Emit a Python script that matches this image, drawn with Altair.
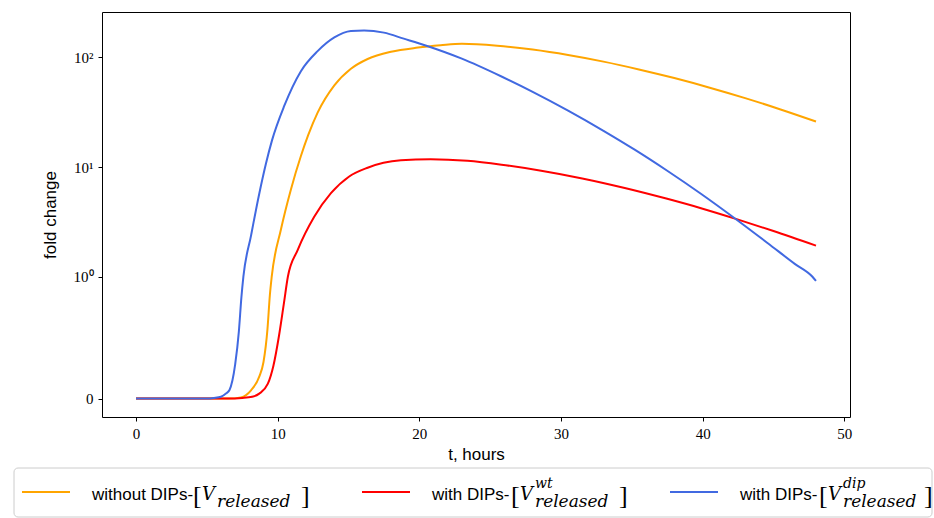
import altair as alt
import pandas as pd
import math

# ---------------- data ----------------
t_without = [0, 6.5, 7.4, 8.12, 8.7, 9.0, 9.28, 9.45, 9.58, 10.23, 10.94, 11.64, 12.16,
             12.82, 14.0, 15.17, 16.35, 18.0, 19.9, 21.5, 23.0, 25.5, 28.0, 30.5, 33.0,
             35.5, 38.0, 40.5, 43.0, 45.5, 48.0]
v_without = [0, 0, 0.01, 0.068, 0.18, 0.3, 0.57, 0.85, 1.0, 2.69, 6.28, 12.6, 19.6,
             31.3, 55.5, 78.7, 96.6, 112.5, 122.7, 128.8, 133, 127.7, 117.6, 105, 91.4,
             77.6, 64.7, 52.9, 42.5, 33.5, 26.0]

t_wt = [0, 6.5, 7.5, 8.2, 8.7, 9.3, 9.7, 10.1, 10.45, 10.72, 11.41, 12.58, 13.76,
        15.05, 16.35, 18.7, 20.8, 23.4, 25.8, 28.6, 31.5, 34.5, 37.5, 40.0, 42.4, 45.0, 48.0]
v_wt = [0, 0, 0.005, 0.015, 0.041, 0.12, 0.27, 0.52, 0.79, 1.0, 1.75, 3.52, 5.77,
        8.2, 9.86, 11.5, 11.8, 11.4, 10.5, 9.25, 7.87, 6.44, 5.13, 4.17, 3.35, 2.61, 1.92]

t_dip = [0, 5.0, 5.5, 6.0, 6.35, 6.6, 7.0, 7.26, 7.44, 7.58, 8.12, 8.7, 9.17, 9.6,
         10.47, 11.64, 12.82, 14.0, 15.17, 16.1, 17.5, 18.9, 20.5, 23.0, 25.8, 28.0,
         30.5, 33.0, 35.2, 37.5, 39.9, 42.4, 44.6, 46.5, 47.75, 48.0]
v_dip = [0, 0.0, 0.005, 0.015, 0.041, 0.07, 0.28, 0.55, 0.83, 1.0, 2.37, 5.71, 10.7, 17.5,
         36.2, 74.8, 114, 152, 174, 176, 168, 148, 127.6, 97.3, 66.9, 48.5,
         32.7, 21.4, 14.4, 9.25, 5.68, 3.31, 2.02, 1.31, 1.0, 0.966]

x_ticks = [0, 10, 20, 30, 40, 50]
y_tick_values = [0, 1, 10, 100]
y_tick_labels = ["0", "10⁰", "10¹", "10²"]

series_colors = ["orange", "red", "royalblue"]

# ---------------- symlog helpers (matplotlib: linthresh=1, linscale=1) ----------------
LINSCALE = 1.0 / (1.0 - 0.1)


def symlog_py(v):
    return v * LINSCALE if v <= 1 else LINSCALE + math.log10(v)


SYMLOG_EXPR = f"datum.v <= 1 ? datum.v * {LINSCALE} : {LINSCALE} + log(datum.v) / LN10"

all_v = v_without + v_wt + v_dip
ymax_t = max(symlog_py(v) for v in all_v)
y_domain = [-0.05 * ymax_t, 1.05 * ymax_t]
x_domain = [-0.05 * 48, 48 * 1.05]
y_tick_t = [symlog_py(v) for v in y_tick_values]

label_expr = " : ".join(
    f"abs(datum.value - {tv}) < 0.01 ? '{lab}'" for tv, lab in zip(y_tick_t, y_tick_labels)
) + " : ''"

# ---------------- layout ----------------
LEFT, TOP = 102, 12
W, H = 748, 405
SERIF = "Liberation Serif"
SANS = "Liberation Sans"
MATH = "DejaVu Serif"

x_scale = alt.Scale(domain=x_domain, nice=False, zero=False)
y_scale = alt.Scale(domain=y_domain, nice=False, zero=False)

x_axis = alt.Axis(values=x_ticks, title="t, hours", grid=False,
                  labelFont=SERIF, labelFontSize=15, titleFont=SANS,
                  titleFontSize=17, titleFontWeight="normal",
                  tickColor="black", domain=False, labelColor="black",
                  titleColor="black", tickSize=4, labelPadding=5,
                  titlePadding=5, labelFlush=False)
y_axis = alt.Axis(values=y_tick_t, labelExpr=label_expr, title="fold change",
                  grid=False, labelFont=SERIF, labelFontSize=15,
                  titleFont=SANS, titleFontSize=17, titleFontWeight="normal",
                  tickColor="black", domain=False, labelColor="black",
                  titleColor="black", tickSize=4, labelPadding=5,
                  titlePadding=14, labelFlush=False)


def line_layer(ts, vs, color):
    df = pd.DataFrame({"t": ts, "v": vs})
    return (alt.Chart(df)
            .transform_calculate(T=SYMLOG_EXPR)
            .mark_line(color=color, strokeWidth=2, interpolate="monotone", clip=True)
            .encode(x=alt.X("t:Q", scale=x_scale, axis=x_axis),
                    y=alt.Y("T:Q", scale=y_scale, axis=y_axis)))


layers = [
    line_layer(t_without, v_without, series_colors[0]),
    line_layer(t_wt, v_wt, series_colors[1]),
    line_layer(t_dip, v_dip, series_colors[2]),
]

# ---------------- legend (drawn by hand, to allow sub/superscripts) ----------------
one = pd.DataFrame({"k": [0]})


def ax(xabs):
    return xabs - LEFT


def ay(yabs):
    return yabs - TOP


legend_frame = alt.Chart(one).mark_rect(
    fill="white", stroke="#cccccc", strokeWidth=1, cornerRadius=4
).encode(x=alt.value(ax(14)), x2=alt.value(ax(932)),
         y=alt.value(ay(468)), y2=alt.value(ay(517)))
layers.append(legend_frame)


def txt(s, xabs, yabs, font, size, style="normal"):
    return alt.Chart(one).mark_text(
        text=s, font=font, fontSize=size, fontStyle=style, align="left",
        baseline="alphabetic", color="black"
    ).encode(x=alt.value(ax(xabs)), y=alt.value(ay(yabs)))


def handle(x0, x1, color):
    return alt.Chart(one).mark_rule(color=color, strokeWidth=2).encode(
        x=alt.value(ax(x0)), x2=alt.value(ax(x1)), y=alt.value(ay(492)))


BASE = 500
entries = [
    # handle x0, x1, label x, label, "[" x, "V" x, script x, superscript, "]" x
    (22, 70, 92, "without DIPs-", 193, 202, 217, "", 301),
    (362, 410, 432, "with DIPs-", 511, 520, 535, "wt", 619),
    (670, 718, 740, "with DIPs-", 819, 828, 843, "dip", 924),
]
for (h0, h1, lx, lab, bx, vx, sx, sup, cx), col in zip(entries, series_colors):
    layers.append(handle(h0, h1, col))
    layers.append(txt(lab, lx, BASE, SANS, 17))
    layers.append(txt("[", bx, BASE + 4, SERIF, 26))
    layers.append(txt("V", vx, BASE, MATH, 18, "italic"))
    layers.append(txt("released", sx, BASE + 7, MATH, 17, "italic"))
    if sup:
        layers.append(txt(sup, sx, BASE - 12, MATH, 14, "italic"))
    layers.append(txt("]", cx, BASE + 4, SERIF, 26))

chart = alt.layer(*layers).properties(
    width=W, height=H,
    padding={"left": LEFT, "top": TOP, "right": 934 - LEFT - W, "bottom": 518 - TOP - H},
    autosize=alt.AutoSizeParams(type="none"),
    background="white",
).configure_view(stroke="black", strokeWidth=1)

chart.save("out.html", embed_options={"renderer": "svg", "actions": False})
